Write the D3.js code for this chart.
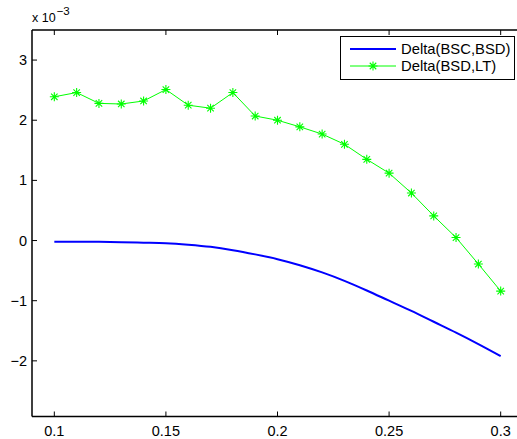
<!DOCTYPE html>
<html><head><meta charset="utf-8">
<script src="https://cdn.jsdelivr.net/npm/d3@7"></script>
<style>body{margin:0;background:#fff;overflow:hidden}svg{display:block}text{font-family:"Liberation Sans",Arial,Helvetica,sans-serif}</style>
</head><body>
<script>
const xValues = [0.10,0.11,0.12,0.13,0.14,0.15,0.16,0.17,0.18,0.19,0.20,0.21,0.22,0.23,0.24,0.25,0.26,0.27,0.28,0.29,0.30];
const bscBsd = [-0.02,-0.02,-0.022,-0.027,-0.035,-0.045,-0.07,-0.105,-0.16,-0.23,-0.31,-0.41,-0.53,-0.67,-0.83,-1.00,-1.17,-1.35,-1.53,-1.72,-1.92];
const bsdLt = [2.39,2.46,2.28,2.27,2.32,2.51,2.25,2.20,2.46,2.07,2.00,1.89,1.77,1.60,1.35,1.12,0.79,0.41,0.05,-0.39,-0.84];
const xTicks = [0.1,0.15,0.2,0.25,0.3];
const xTickLabels = ["0.1","0.15","0.2","0.25","0.3"];
const yTicks = [-2,-1,0,1,2,3];
const yTickLabels = ["\u22122","\u22121","0","1","2","3"];
const seriesNames = ["Delta(BSC,BSD)","Delta(BSD,LT)"];

const W = 517, H = 439;
const L = 32, T = 30, R = 523, B = 416.5;
const svg = d3.select("body").append("svg").attr("width", W).attr("height", H);
const x = d3.scaleLinear().domain([0.09, 0.31]).range([L, R]);
const y = d3.scaleLinear().domain([-2.925, 3.5]).range([B, T]);

svg.append("defs").append("clipPath").attr("id","c").append("rect")
  .attr("x", L).attr("y", T).attr("width", R - L).attr("height", B - T);

const plot = svg.append("g").attr("clip-path","url(#c)");
plot.append("path").datum(bscBsd)
  .attr("d", d3.line().x((d,i)=>x(xValues[i])).y(d=>y(d)).curve(d3.curveMonotoneX))
  .attr("fill","none").attr("stroke","#0000ff").attr("stroke-width",2);
plot.append("path").datum(bsdLt)
  .attr("d", d3.line().x((d,i)=>x(xValues[i])).y(d=>y(d)))
  .attr("fill","none").attr("stroke","#00ff00").attr("stroke-width",1);

function star(g, cx, cy, r, color){
  const d = r*0.72;
  const p = `M${cx-r},${cy}L${cx+r},${cy}M${cx},${cy-r}L${cx},${cy+r}M${cx-d},${cy-d}L${cx+d},${cy+d}M${cx-d},${cy+d}L${cx+d},${cy-d}`;
  g.append("path").attr("d", p).attr("stroke", color).attr("stroke-width",1.1).attr("fill","none");
}
bsdLt.forEach((v,i)=>star(plot, x(xValues[i]), y(v), 4.5, "#00ff00"));

// axes
const ax = svg.append("g").attr("stroke","#000").attr("stroke-width",1.5).attr("fill","none");
ax.append("path").attr("d", `M${L},${T}H${R}M${L},${T}V${B}M${L},${B}H${R}`);
const tk = svg.append("g").attr("stroke","#000").attr("stroke-width",1).attr("fill","none");
xTicks.forEach(t=>{
  tk.append("path").attr("d", `M${x(t)},${B}v-5M${x(t)},${T}v5`);
});
yTicks.forEach(t=>{
  tk.append("path").attr("d", `M${L},${y(t)}h5`);
});
const fs = 14.5;
svg.append("g").selectAll("text").data(xTicks).join("text")
  .attr("x", d=>x(d)).attr("y", B + 19).attr("text-anchor","middle")
  .attr("font-size", fs).text((d,i)=>xTickLabels[i]);
svg.append("g").selectAll("text").data(yTicks).join("text")
  .attr("x", L - 5).attr("y", d=>y(d) + 5).attr("text-anchor","end")
  .attr("font-size", fs).text((d,i)=>yTickLabels[i]);

const ex = svg.append("text").attr("x", L).attr("y", 22).attr("font-size", 12.5);
ex.append("tspan").text("x 10");
ex.append("tspan").attr("dy", -7).attr("dx", 1).attr("font-size", 11.5).text("\u22123");

// legend
const lg = svg.append("g");
lg.append("rect").attr("x", 340.5).attr("y", 36.5).attr("width", 174).attr("height", 43)
  .attr("fill","#fff").attr("stroke","#000").attr("stroke-width",1);
lg.append("line").attr("x1",350).attr("x2",396).attr("y1",49).attr("y2",49).attr("stroke","#0000ff").attr("stroke-width",2);
lg.append("line").attr("x1",350).attr("x2",396).attr("y1",66).attr("y2",66).attr("stroke","#00ff00").attr("stroke-width",1);
star(lg, 373, 66, 4.5, "#00ff00");
lg.selectAll("text.l").data(seriesNames).join("text").attr("class","l")
  .attr("x", 401).attr("y",(d,i)=>54 + i*17).attr("font-size",14.8).text(d=>d);
</script>
</body></html>
